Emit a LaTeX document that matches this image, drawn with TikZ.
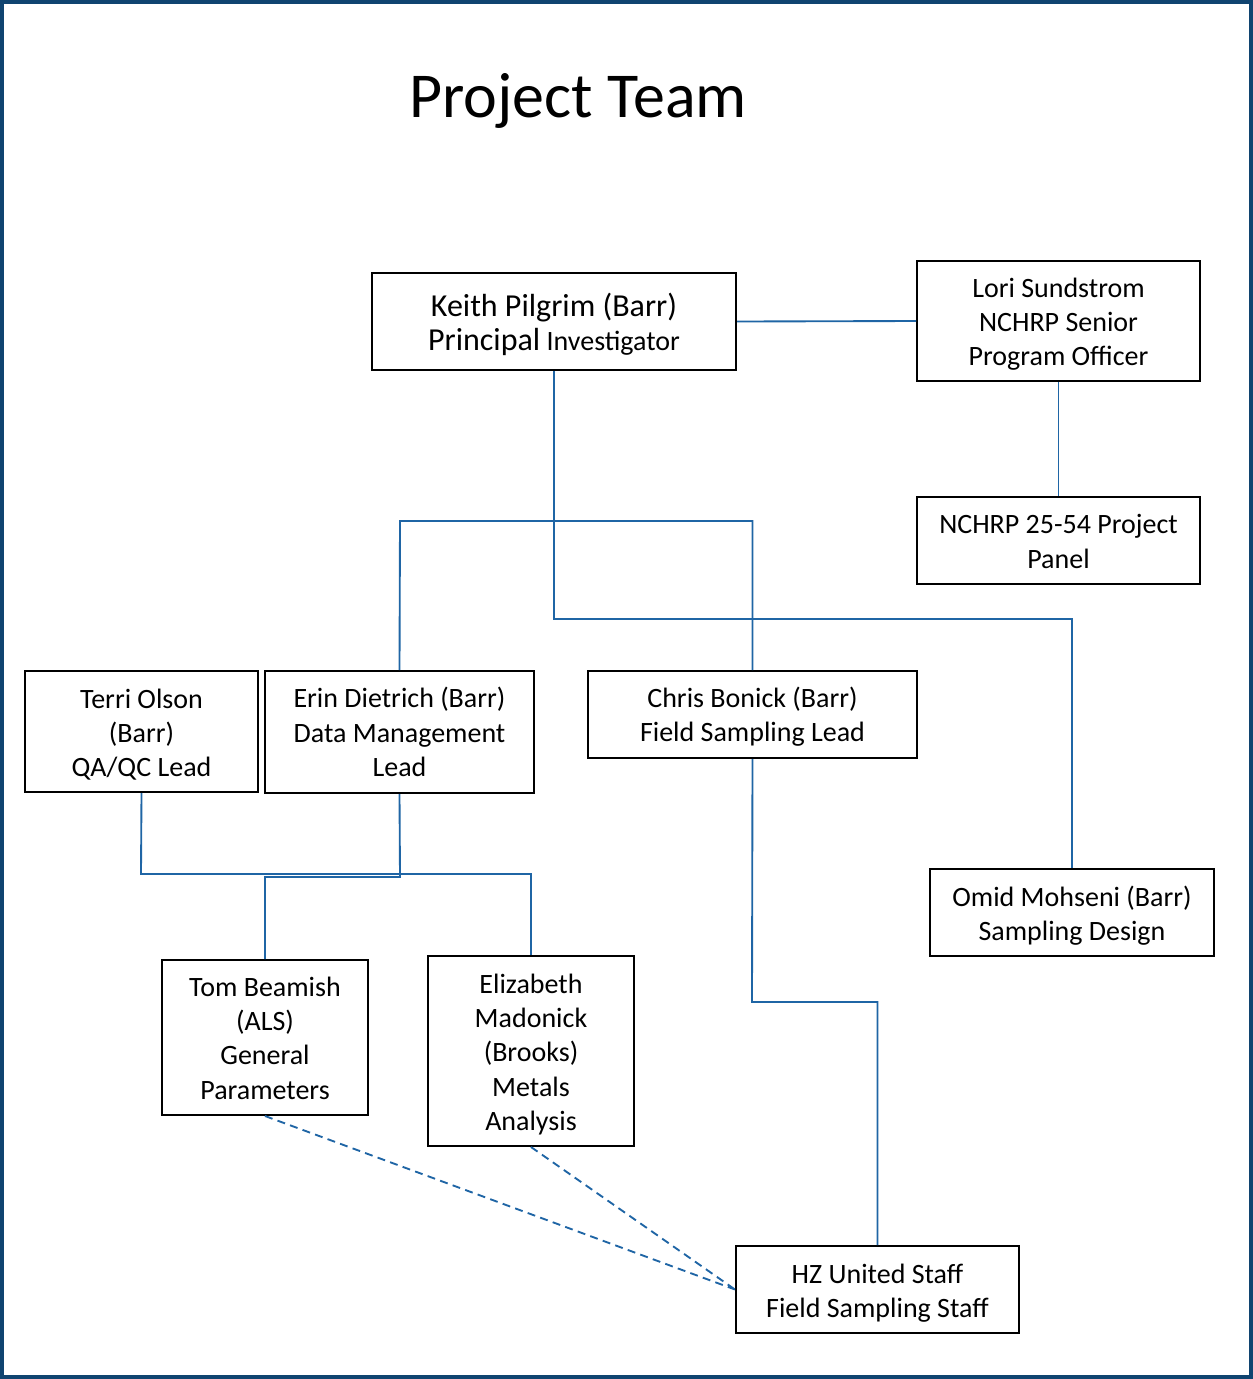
\documentclass[tikz,border=0pt]{standalone}
\usepackage{fontspec}
\setmainfont{Carlito}
\definecolor{frame}{RGB}{16,68,112}
\definecolor{link}{RGB}{31,101,165}
\tikzset{
  box/.style={draw=black, line width=1.5pt, fill=white, inner sep=0pt},
  boxtext/.style={inner sep=0pt, align=center, font=\fontsize{21}{25.7}\selectfont},
  link/.style={draw=link, line width=1.4pt},
  dlink/.style={draw=link, line width=1.4pt, dash pattern=on 6pt off 4pt},
}
% \bx{name}{x}{y}{w}{h}{text shift}{text}
\newcommand\bx[7]{%
  \node[box, minimum width={#4*0.75pt}, minimum height={#5*0.75pt}] (#1) at (#2,#3) {};
  \node[boxtext] (#1-t) at ([yshift={-#6*0.75pt}]#1.center) {#7};}
\begin{document}
\begin{tikzpicture}[x=0.75pt, y=-0.75pt]
\useasboundingbox (0,0) rectangle (1253,1379);
\draw[frame, line width=3pt] (2,1.5) rectangle (1251,1377);

\node (title) at (578,101) {\fontsize{48}{52}\selectfont Project Team};

\coordinate (kbend) at (554,619);
\coordinate (ebar) at (400,521);
\coordinate (tbar) at (141,874);
\coordinate (mbar) at (400,877);
\coordinate (cbend) at (752,1002);

\bx{keith}{554}{321.5}{364}{97}{3}
  {{\fontsize{24}{30.5}\selectfont Keith Pilgrim (Barr)}\\{\fontsize{24}{30.5}\selectfont Principal} Investigator}
\bx{lori}{1058.5}{321}{283}{120}{3}{Lori Sundstrom\\NCHRP Senior\\Program Officer}
\bx{panel}{1058.5}{540.5}{283}{87}{1}{NCHRP 25-54 Project\\Panel}
\bx{terri}{141.5}{731.5}{233}{121}{3}{Terri Olson\\(Barr)\\QA/QC Lead}
\bx{erin}{399.5}{732}{269}{122}{0}{Erin Dietrich (Barr)\\Data Management\\Lead}
\bx{chris}{752.5}{714.5}{329}{87}{2.5}{Chris Bonick (Barr)\\Field Sampling Lead}
\bx{omid}{1072}{912.5}{284}{87}{3}{Omid Mohseni (Barr)\\Sampling Design}
\bx{tom}{265}{1037.5}{206}{155}{0.5}{Tom Beamish\\(ALS)\\General\\Parameters}
\bx{eliz}{531}{1051}{206}{190}{3.5}{Elizabeth\\Madonick\\(Brooks)\\Metals\\Analysis}
\bx{hz}{877.5}{1289.5}{283}{87}{4}{HZ United Staff\\Field Sampling Staff}

\draw[link] (keith.east) -- (lori.west);
\draw[link] (lori.south) -- (panel.north);
\draw[link] (keith.south) -- (kbend) -| (omid.north);
\draw[link] (erin.north) -- (ebar) -| (chris.north);
\draw[link] (terri.south) -- (tbar) -- (tbar -| erin.south);
\draw[link] (erin.south) -- (mbar) -| (tom.north);
\draw[link] (erin.south |- tbar) -| (eliz.north);
\draw[link] (chris.south) -- (cbend) -| (hz.north);
\draw[dlink] (tom.south) -- (hz.west);
\draw[dlink] (eliz.south) -- (hz.west);
\end{tikzpicture}
\end{document}
